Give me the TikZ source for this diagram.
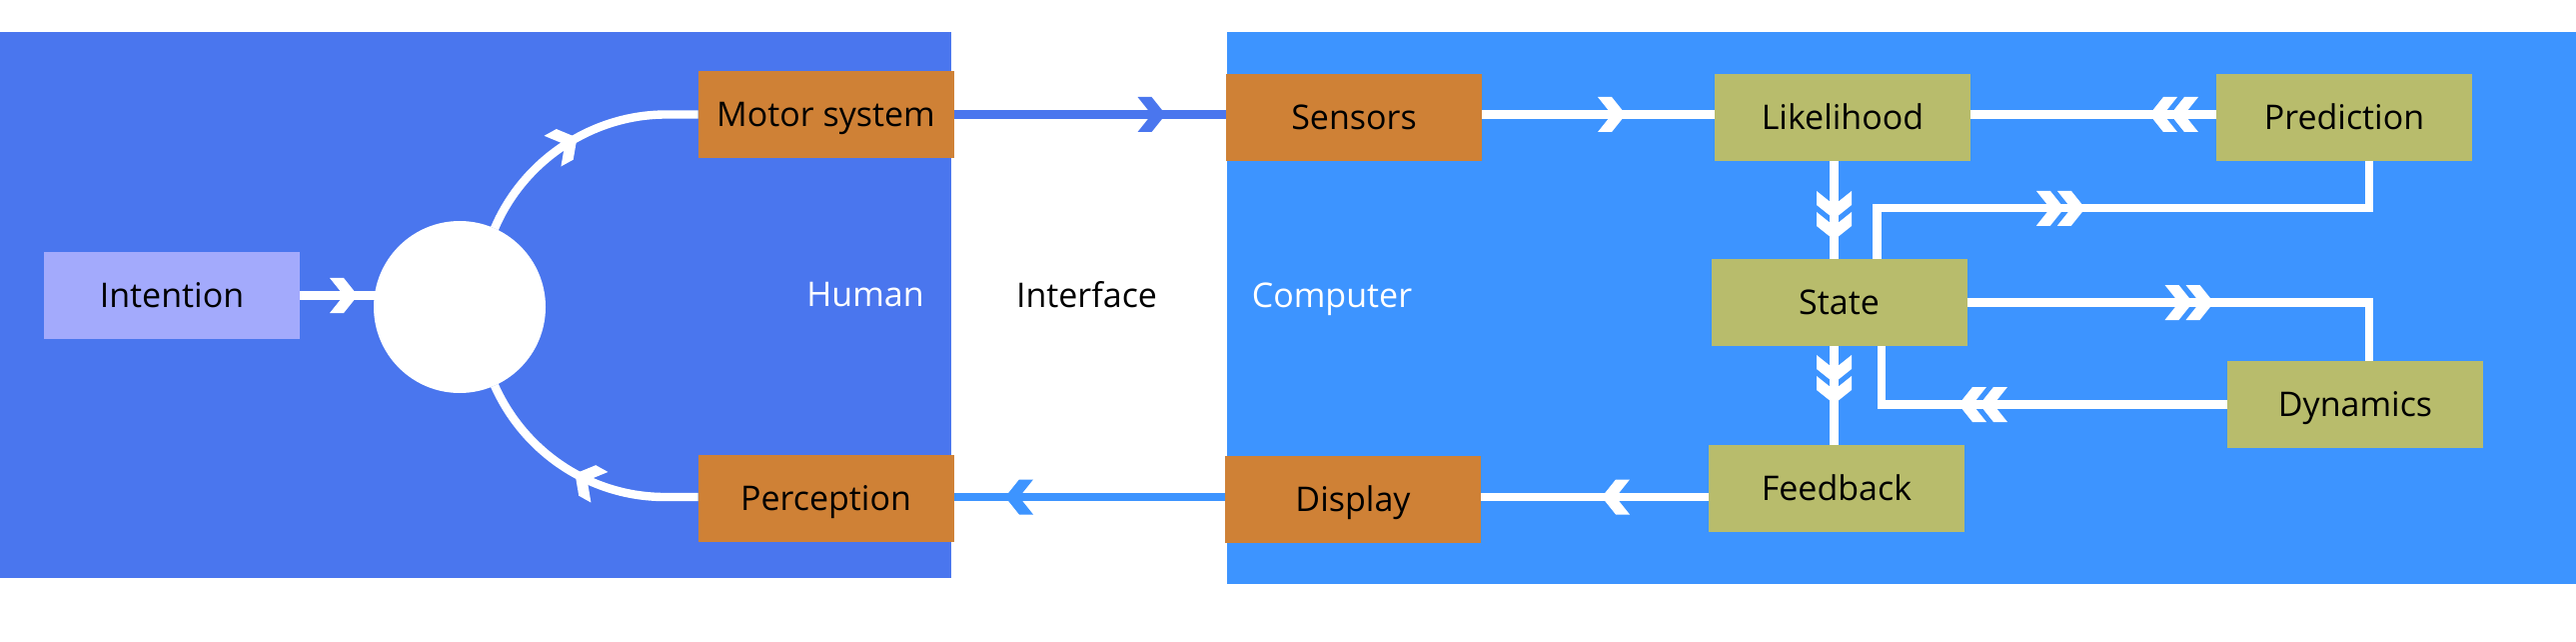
\documentclass[tikz,border=0pt]{standalone}
\usepackage{fontspec}
\setmainfont{Open Sans}
\usetikzlibrary{decorations.markings}
\definecolor{humanblue}{RGB}{74,118,238}
\definecolor{compblue}{RGB}{61,148,255}
\definecolor{intentcol}{RGB}{163,170,252}
\definecolor{orangebox}{RGB}{207,129,54}
\definecolor{olivebox}{RGB}{184,188,108}
\tikzset{
  txt/.style={inner sep=0pt, outer sep=0pt, text height=24.3pt, text depth=0pt, font=\fontsize{34}{40}\selectfont},
  box/.style={txt, minimum width=256pt, minimum height=87pt},
  hwbox/.style={box, fill=orangebox},
  swbox/.style={box, fill=olivebox},
  wire/.style={line width=8.4pt},
  chevone/.style 2 args={postaction={decorate, decoration={markings,
      mark=at position #1pt with {\fill[#2] (0,0) -- (-14,17.5) -- (-28,17.5) -- (-14,0) -- (-28,-17.5) -- (-14,-17.5) -- cycle;}}}},
  chevtwo/.style 2 args={postaction={decorate, decoration={markings,
      mark=at position #1pt with {\fill[#2] (0,0) -- (-14,17.5) -- (-28,17.5) -- (-14,0) -- (-28,-17.5) -- (-14,-17.5) -- cycle
        (-21,0) -- (-35,17.5) -- (-49,17.5) -- (-35,0) -- (-49,-17.5) -- (-35,-17.5) -- cycle;}}}}
}
\begin{document}
\begin{tikzpicture}[x=1pt,y=1pt]
\useasboundingbox (0,0) rectangle (2578,641);
% regions
\fill[humanblue] (0,63) rectangle (952,609);
\fill[compblue] (1228,57) rectangle (2578,609);
% labels
\node[txt, text=white] (humanlbl) at (866,346.5) {Human};
\node[txt, text=black] (interlbl) at (1087.5,346) {Interface};
\node[txt, text=white] (complbl) at (1333,346) {Computer};
% human side
\node[box, fill=intentcol] (intention) at (172,345.5) {Intention};
\node[circle, fill=white, minimum size=172pt, inner sep=0pt, outer sep=0pt] (circ) at (460,334) {};
\node[hwbox] (motor) at (826.5,526.5) {Motor system};
\node[hwbox] (perception) at (826.5,142.5) {Perception};
% computer side
\node[hwbox] (sensors) at (1355,523.5) {Sensors};
\node[hwbox] (display) at (1354,141.5) {Display};
\node[swbox] (likelihood) at (1844,523.5) {Likelihood};
\node[swbox] (prediction) at (2346,523.5) {Prediction};
\node[swbox] (state) at (1840.5,338.5) {State};
\node[swbox] (dynamics) at (2357,236.5) {Dynamics};
\node[swbox] (feedback) at (1838,152.5) {Feedback};
% routing coordinates
\coordinate (mA) at ([xshift=-32pt]motor.west);
\coordinate (rowB) at (0,144);
\coordinate (pA) at (665,144);
\coordinate (colA) at (1835.5,0);
\coordinate (colB) at (1878.5,0);
\coordinate (colC) at (2371,0);
\coordinate (colD) at (1883,0);
\coordinate (rowP) at (0,432.7);
% connectors
\draw[wire, white, chevone={58}{white}] (intention.east) -- ([xshift=5pt]intention.east -| circ.west);
\draw[wire, white, chevone={125}{white}] (circ.66) .. controls +(67:74) and +(-74,0) .. (mA) -- (motor.west);
\draw[wire, white, chevone={127}{white}] (perception.west |- rowB) -- (pA) .. controls +(-73.5,0) and +(-66:73.5) .. (circ.-66);
\draw[wire, humanblue, chevone={212}{humanblue}] (motor.east) -- (motor.east -| sensors.west);
\draw[wire, compblue, chevone={220}{compblue}] (display.west |- rowB) -- (perception.east |- rowB);
\draw[wire, white, chevone={144}{white}] (sensors.east |- motor.east) -- (likelihood.west |- motor.east);
\draw[wire, white, chevtwo={67}{white}] (prediction.west |- motor.east) -- (likelihood.east |- motor.east);
\draw[wire, white, chevtwo={79}{white}] (likelihood.south -| colA) -- (state.north -| colA);
\draw[wire, white, chevtwo={259}{white}] (state.north -| colB) -- (colB |- rowP) -- (colC |- rowP) -- (prediction.south -| colC);
\draw[wire, white, chevtwo={247}{white}] (state.east) -- (state.east -| colC) -- (dynamics.north -| colC);
\draw[wire, white, chevtwo={269}{white}] (dynamics.west) -- (dynamics.west -| colD) -- (state.south -| colD);
\draw[wire, white, chevtwo={58}{white}] (state.south -| colA) -- (feedback.north -| colA);
\draw[wire, white, chevone={107}{white}] (feedback.west |- rowB) -- (display.east |- rowB);
\end{tikzpicture}
\end{document}
